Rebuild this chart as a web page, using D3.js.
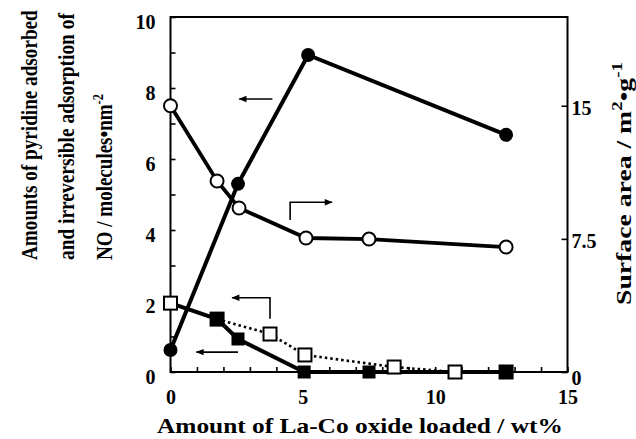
<!DOCTYPE html>
<html><head><meta charset="utf-8">
<script src="https://cdn.jsdelivr.net/npm/d3@7"></script>
<style>body{margin:0;background:#fff}svg{display:block}svg text{font-family:"Liberation Serif",Tinos,"Times New Roman","DejaVu Serif",serif;font-weight:bold;fill:#000}</style>
</head><body><svg id="c" width="636" height="439"></svg>
<script>
// data
const pyrX = [0, 2.55, 5.2, 12.68];
const pyrY = [0.62, 5.3, 8.93, 6.68];
const areaX = [0, 1.76, 2.59, 5.12, 7.5, 12.68];
const areaY = [15.0, 10.76, 9.24, 7.55, 7.49, 7.04];
const noSolidX = [0, 1.76, 2.55, 5.05, 7.5, 12.68];
const noSolidY = [1.94, 1.49, 0.93, 0, 0, 0];
const noDotX = [0, 1.76, 3.76, 5.08, 8.45, 10.75, 12.68];
const noDotY = [1.94, 1.49, 1.07, 0.48, 0.14, 0, 0];
const xTicks = [0, 5, 10, 15];
const yTicks = [0, 2, 4, 6, 8, 10];
const y2Ticks = [0, 7.5, 15];

const svg = d3.select("#c");
const x = d3.scaleLinear().domain([0, 15]).range([170.5, 567.5]);
const y = d3.scaleLinear().domain([0, 10]).range([372, 17]);
const y2 = d3.scaleLinear().domain([0, 20]).range([372, 17]);

// frame
svg.append("rect").attr("x", x(0)).attr("y", y(10)).attr("width", x(15) - x(0)).attr("height", y(0) - y(10))
  .attr("fill", "none").attr("stroke", "#000").attr("stroke-width", 2);

// axes
const gx = svg.append("g").attr("transform", `translate(0,${y(0)})`)
  .call(d3.axisTop(x).tickValues(d3.range(0, 16)).tickSize(5).tickFormat(""));
const gxl = svg.append("g").attr("transform", `translate(0,${y(0)})`)
  .call(d3.axisBottom(x).tickValues(xTicks).tickSize(0).tickPadding(18).tickFormat(d3.format("d")));
const gy = svg.append("g").attr("transform", `translate(${x(0)},0)`)
  .call(d3.axisRight(y).tickValues(d3.range(0, 11)).tickSize(5).tickFormat(""));
const gyl = svg.append("g").attr("transform", `translate(${x(0)},0)`)
  .call(d3.axisLeft(y).tickValues(yTicks).tickSize(0).tickPadding(15).tickFormat(d3.format("d")));
const gy2 = svg.append("g").attr("transform", `translate(${x(15)},0)`)
  .call(d3.axisLeft(y2).tickValues(y2Ticks).tickSize(6).tickFormat(""));
const gy2l = svg.append("g").attr("transform", `translate(${x(15)},0)`)
  .call(d3.axisRight(y2).tickValues(y2Ticks).tickSize(0).tickPadding(4).tickFormat(d => d));
[gx, gxl, gy, gyl, gy2, gy2l].forEach(g => {
  g.attr("font-family", null);
  g.select(".domain").remove();
  g.selectAll("line").attr("stroke", "#000").attr("stroke-width", 1.6);
  g.selectAll("text").attr("font-size", 20);
});
gyl.selectAll("text").attr("dy", "0.55em");
gy2l.selectAll("text").attr("dy", "0.45em");
gy2l.selectAll("text").filter(d => d === 0).attr("dy", "0.6em");

// lines
const mk = (xs, ys, sc) => xs.map((v, i) => [x(v), sc(ys[i])]);
const line = d3.line();
svg.append("path").attr("d", line(mk(noDotX, noDotY, y))).attr("fill", "none").attr("stroke", "#000")
  .attr("stroke-width", 2.6).attr("stroke-dasharray", "2.5,3");
svg.append("path").attr("d", line(mk(noSolidX, noSolidY, y))).attr("fill", "none").attr("stroke", "#000").attr("stroke-width", 4);
svg.append("path").attr("d", line(mk(areaX, areaY, y2))).attr("fill", "none").attr("stroke", "#000").attr("stroke-width", 3.8);
svg.append("path").attr("d", line(mk(pyrX, pyrY, y))).attr("fill", "none").attr("stroke", "#000").attr("stroke-width", 4);

// markers
const s = 13;
svg.append("g").selectAll("rect").data(mk(noDotX, noDotY, y)).join("rect")
  .attr("x", d => d[0] - s / 2).attr("y", d => d[1] - s / 2).attr("width", s).attr("height", s)
  .attr("fill", "#fff").attr("stroke", "#000").attr("stroke-width", 2);
svg.append("g").selectAll("rect").data(mk(noSolidX, noSolidY, y).slice(1)).join("rect")
  .attr("x", d => d[0] - s / 2).attr("y", d => d[1] - s / 2).attr("width", s).attr("height", s)
  .attr("fill", "#000");
svg.append("g").selectAll("circle").data(mk(areaX, areaY, y2)).join("circle")
  .attr("cx", d => d[0]).attr("cy", d => d[1]).attr("r", 6.5)
  .attr("fill", "#fff").attr("stroke", "#000").attr("stroke-width", 2);
svg.append("g").selectAll("circle").data(mk(pyrX, pyrY, y)).join("circle")
  .attr("cx", d => d[0]).attr("cy", d => d[1]).attr("r", 7).attr("fill", "#000");

// arrows
svg.append("defs").append("marker").attr("id", "ah").attr("viewBox", "0 0 10 10").attr("refX", 9).attr("refY", 5)
  .attr("markerWidth", 10).attr("markerHeight", 8).attr("markerUnits", "userSpaceOnUse").attr("orient", "auto")
  .append("path").attr("d", "M0,1 L10,5 L0,9 Z").attr("fill", "#000");
const arrows = [
  [[3.85, 7.69], [2.6, 7.69]],
  [[4.52, 4.28], [4.52, 4.78], [6.1, 4.78]],
  [[3.76, 1.5], [3.76, 2.09], [2.33, 2.09]],
  [[2.55, 0.56], [0.98, 0.56]]
];
arrows.forEach(a => {
  svg.append("path").attr("d", line(a.map(p => [x(p[0]), y(p[1])]))).attr("fill", "none")
    .attr("stroke", "#000").attr("stroke-width", 1.6).attr("marker-end", "url(#ah)");
});

// titles: fit text to a target length by horizontal scaling
function fit(g, len) {
  const t = g.select("text");
  const w = t.node().getComputedTextLength();
  t.attr("transform", `scale(${len / w},1)`);
}
const xt = svg.append("g").attr("transform", "translate(157,433)");
xt.append("text").attr("font-size", 22).text("Amount of La-Co oxide loaded / wt%");
fit(xt, 406);

function leftLine(base, len, build) {
  const g = svg.append("g").attr("transform", `translate(${base},260) rotate(-90)`);
  const t = g.append("text").attr("font-size", 23);
  build(t);
  fit(g, len);
}
leftLine(37, 250, t => t.text("Amounts of pyridine adsorbed"));
leftLine(74, 247, t => t.text("and irreversible adsorption of"));
leftLine(112, 166, t => {
  t.append("tspan").text("NO / molecules\u2022nm");
  t.append("tspan").attr("dy", -9).attr("font-size", 15).text("-2");
});
const rg = svg.append("g").attr("transform", "translate(631,305) rotate(-90)");
const rt = rg.append("text").attr("font-size", 22);
rt.append("tspan").text("Surface area / m");
rt.append("tspan").attr("dy", -9).attr("font-size", 15).text("2");
rt.append("tspan").attr("dy", 9).text("\u2022g");
rt.append("tspan").attr("dy", -9).attr("font-size", 15).text("-1");
fit(rg, 243);
</script></body></html>
